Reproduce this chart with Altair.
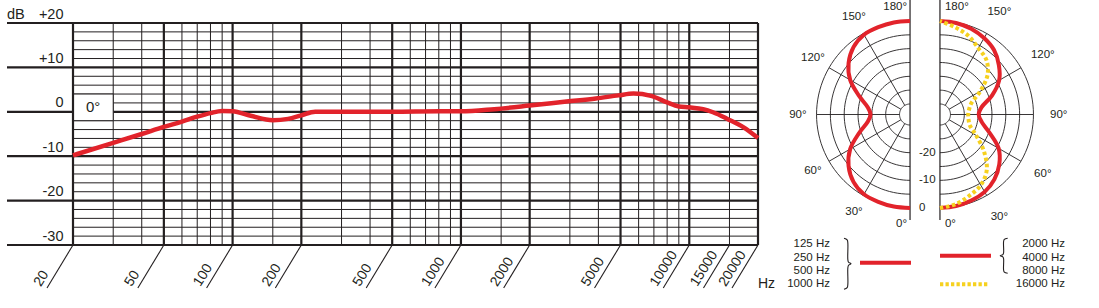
import altair as alt
import pandas as pd

W, H = 1099, 308
INK = "#231f20"
RED = "#e2232b"
YELLOW = "#f6d11f"
FONT = "Liberation Sans"

# ---------------- frequency response (0 deg) ----------------
MAJOR_HZ = [20, 50, 100, 200, 500, 1000, 2000, 5000, 10000, 20000]
MINOR_HZ = [30, 40, 60, 70, 80, 90, 150, 300, 400, 600, 700, 800, 900,
            1500, 3000, 4000, 6000, 7000, 8000, 9000, 15000]
HZ_TICKS = [20, 50, 100, 200, 500, 1000, 2000, 5000, 10000, 15000, 20000]
MAJOR_DB = [20, 10, 0, -10, -20, -30]
MAJOR_DB_TEXT = ["+20", "+10", "0", "-10", "-20", "-30"]
MINOR_DB = [18, 16, 14, 12, 8, 6, 4, 2, -2, -4, -6, -8,
            -12, -14, -16, -18, -22, -24, -26, -28]
RESP_HZ = [20, 30, 40, 50, 60, 70, 80, 90, 100, 120, 150, 175, 200, 230, 300,
           500, 800, 1000, 1400, 2000, 2900, 3900, 4900, 5700, 6800, 8000,
           9000, 10000, 11500, 12700, 14700, 17300, 20000]
RESP_DB = [-9.8, -7.0, -5.0, -3.4, -2.2, -1.1, -0.3, 0.2, 0.1, -0.9, -1.9, -1.6,
           -0.8, 0.0, 0.0, 0.0, 0.1, 0.1, 0.6, 1.4, 2.3, 3.0, 3.7, 4.1, 3.6,
           2.1, 1.2, 1.0, 0.6, -0.1, -1.6, -3.5, -5.9]

# ---------------- polar patterns ----------------
POLAR_THETA = [0, 10, 20, 30, 40, 50, 60, 70, 80, 90,
               100, 110, 120, 130, 140, 150, 160, 170, 180]
LOW_DB = [0, 0, -0.2, -0.5, -2.0, -4.8, -8.8, -14.2, -18.2, -19.5,
          -18.2, -14.2, -8.8, -4.8, -2.0, -0.5, -0.2, 0, 0]          # 125-1000 Hz
MID_DB = [0, -0.2, -0.7, -1.5, -3.2, -5.8, -9.3, -14.8, -18.5, -19.8,
          -18.5, -13.8, -9.1, -6.0, -3.4, -1.9, -0.8, -0.2, 0]        # 2000-8000 Hz
HIGH_DB = [0, -0.9, -2.6, -4.3, -7.5, -13.0, -18.7, -22.3, -23.3, -23.6,
           -23.1, -21.7, -17.0, -11.3, -7.8, -6.1, -3.6, -1.8, 0]     # 16000 Hz
RING_DB = [0, -5, -10, -15, -20, -25, -30]
SPOKE_DEG = [30, 60, 90, 120, 150]
ANGLE_TEXT = ["30°", "60°", "90°", "120°", "150°"]
END_DEG = [0, 180]
END_TEXT = ["0°", "180°"]
END_R = [1.175, 1.15]
POLAR_DB_TEXT = ["-20", "-10", "0"]
POLAR_DB_VAL = [-20, -10, 0]
DB_SPAN = 33.8   # dB from centre to outer ring
GAP = 0.16       # half gap between the two half-diagrams (outer radius = 1)

# ---------------- legend ----------------
LEFT_LEGEND = ["125 Hz", "250 Hz", "500 Hz", "1000 Hz"]
RIGHT_LEGEND = ["2000 Hz", "4000 Hz", "8000 Hz", "16000 Hz"]
BRACE_T = [0, 0.03, 0.1, 0.42, 0.47, 0.5, 0.53, 0.58, 0.9, 0.97, 1]
BRACE_W = [0, 0.45, 0.55, 0.55, 0.65, 1.0, 0.65, 0.55, 0.55, 0.45, 0]

# ======================= scales =======================
xf = alt.Scale(type="log", domain=[20, 20000], range=[73, 758], nice=False)
yf = alt.Scale(domain=[-30, 20], range=[245, 23], nice=False, zero=False)
xp = alt.Scale(domain=[-1, 1], range=[831.5, 1018.5], nice=False, zero=False)
yp = alt.Scale(domain=[-1, 1], range=[208, 21], nice=False, zero=False)
xl = alt.Scale(domain=[0, W], range=[0, W], nice=False, zero=False)
yl = alt.Scale(domain=[0, 3], range=[244.4, 284.3], nice=False, zero=False)


def FX(f):
    return alt.X(f, type="quantitative", scale=xf, axis=None)


def FY(f):
    return alt.Y(f, type="quantitative", scale=yf, axis=None)


def PX(f):
    return alt.X(f, type="quantitative", scale=xp, axis=None)


def PY(f):
    return alt.Y(f, type="quantitative", scale=yp, axis=None)


txt = dict(font=FONT, color=INK)

# ======================= frequency chart =======================
minor_h = alt.Chart(pd.DataFrame({"db": MINOR_DB, "f0": 20, "f1": 20000})).mark_rule(
    color=INK, strokeWidth=1).encode(x=FX("f0"), x2="f1", y=FY("db"))
minor_v = alt.Chart(pd.DataFrame({"f": MINOR_HZ, "d0": -30, "d1": 20})).mark_rule(
    color=INK, strokeWidth=1).encode(x=FX("f"), y=FY("d0"), y2="d1")
major_h = alt.Chart(pd.DataFrame({"db": MAJOR_DB, "f0": 20, "f1": 20000})).mark_rule(
    color=INK, strokeWidth=2.2).encode(x=FX("f0"), x2="f1", y=FY("db"))
major_stub = alt.Chart(pd.DataFrame({"db": MAJOR_DB})).mark_rule(
    color=INK, strokeWidth=2.2).encode(x=alt.value(7), x2=alt.value(73), y=FY("db"))
box = alt.Chart(pd.DataFrame({"f0": [20], "f1": [30], "d0": [4], "d1": [-2]})).mark_rect(
    fill="white", stroke=INK, strokeWidth=1).encode(x=FX("f0"), x2="f1", y=FY("d0"), y2="d1")
major_v = alt.Chart(pd.DataFrame({"f": MAJOR_HZ, "d0": -30, "d1": 20})).mark_rule(
    color=INK, strokeWidth=2.2).encode(x=FX("f"), y=FY("d0"), y2="d1")
slants = alt.Chart(pd.DataFrame({"f": HZ_TICKS, "d0": -30})).mark_rule(
    color=INK, strokeWidth=1.1, x2Offset=-26).encode(
    x=FX("f"), x2="f", y=FY("d0"), y2=alt.value(288))
curve = alt.Chart(pd.DataFrame({"f": RESP_HZ, "db": RESP_DB})).mark_line(
    color=RED, strokeWidth=4.5, interpolate="monotone").encode(x=FX("f"), y=FY("db"))
ylabels = alt.Chart(pd.DataFrame({"db": MAJOR_DB, "t": MAJOR_DB_TEXT})).mark_text(
    align="right", baseline="alphabetic", dy=-4.5, fontSize=14.5, **txt).encode(
    x=alt.value(63.5), y=FY("db"), text="t:N")
dblabel = alt.Chart(pd.DataFrame({"db": [20], "t": ["dB"]})).mark_text(
    align="left", baseline="alphabetic", dy=-4.5, fontSize=14.5, **txt).encode(
    x=alt.value(7), y=FY("db"), text="t:N")
xlabels = alt.Chart(pd.DataFrame({"f": HZ_TICKS, "d0": -30,
                                  "t": [str(v) for v in HZ_TICKS]})).mark_text(
    angle=302, align="left", baseline="alphabetic", dx=-53, dy=-5, fontSize=14, **txt).encode(
    x=FX("f"), y=FY("d0"), text="t:N")
hz = alt.Chart(pd.DataFrame({"t": ["Hz"]})).mark_text(
    align="left", baseline="alphabetic", fontSize=14, **txt).encode(
    x=alt.value(758), y=alt.value(288), text="t:N")
boxtext = alt.Chart(pd.DataFrame({"f": [24.5], "db": [1], "t": ["0°"]})).mark_text(
    align="center", baseline="middle", fontSize=15, **txt).encode(
    x=FX("f"), y=FY("db"), text="t:N")

freq = alt.layer(minor_h, minor_v, major_h, major_stub, box, major_v, slants, curve,
                 ylabels, dblabel, xlabels, hz, boxtext)

# ======================= polar charts =======================
R_EXPR = f"((datum.db + {DB_SPAN}) / {DB_SPAN})"


def polar_xy(ch, r_expr=R_EXPR, suffix=""):
    return ch.transform_calculate(**{
        "px" + suffix: f"datum.side * ({GAP} + {r_expr} * sin(datum.theta * PI / 180))",
        "py" + suffix: f"-{r_expr} * cos(datum.theta * PI / 180)",
    })


ring_rows = []
for db in RING_DB:
    for side in (-1, 1):
        for th in range(0, 181, 3):
            ring_rows.append({"db": db, "side": side, "theta": th, "key": f"{db}_{side}"})
rings = polar_xy(alt.Chart(pd.DataFrame(ring_rows))).mark_line(
    color=INK, strokeWidth=0.9).encode(
    x=PX("px"), y=PY("py"), detail="key:N", order=alt.Order("theta:Q"))

spoke_df = pd.DataFrame([{"side": s, "theta": t} for s in (-1, 1) for t in SPOKE_DEG])
spokes = alt.Chart(spoke_df).transform_calculate(
    px0=f"datum.side * ({GAP} + {(DB_SPAN - 30) / DB_SPAN} * sin(datum.theta * PI / 180))",
    py0=f"-{(DB_SPAN - 30) / DB_SPAN} * cos(datum.theta * PI / 180)",
    px1=f"datum.side * ({GAP} + sin(datum.theta * PI / 180))",
    py1="-cos(datum.theta * PI / 180)",
).mark_rule(color=INK, strokeWidth=0.9).encode(
    x=PX("px0"), y=PY("py0"), x2="px1", y2="py1")

vlines = alt.Chart(pd.DataFrame({"side": [-1, 1], "y0": -1.128, "y1": 1.225})).transform_calculate(
    px=f"datum.side * {GAP}").mark_rule(color=INK, strokeWidth=1.2).encode(
    x=PX("px"), y=PY("y0"), y2="y1")


def pattern(values, side, **mk):
    df = pd.DataFrame({"theta": POLAR_THETA, "db": values, "side": side})
    return polar_xy(alt.Chart(df)).mark_line(interpolate="catmull-rom", **mk).encode(
        x=PX("px"), y=PY("py"), order=alt.Order("theta:Q"))


red_l = pattern(LOW_DB, -1, color=RED, strokeWidth=4)
red_r = pattern(MID_DB, 1, color=RED, strokeWidth=4)
yel_r = pattern(HIGH_DB, 1, color=YELLOW, strokeWidth=4, strokeDash=[3.5, 2.6])

lab_rows = []
for side, lr in ((-1, 1.2), (1, 1.27)):
    for t, s in zip(SPOKE_DEG, ANGLE_TEXT):
        lab_rows.append({"side": side, "theta": t, "t": s, "lr": lr})
angle_labels = polar_xy(alt.Chart(pd.DataFrame(lab_rows)), r_expr="datum.lr").mark_text(
    align="center", baseline="middle", fontSize=11.5, **txt).encode(
    x=PX("px"), y=PY("py"), text="t:N")


def end_labels(side, align, dx):
    df = pd.DataFrame({"side": side, "theta": END_DEG, "t": END_TEXT, "lr": END_R})
    return alt.Chart(df).transform_calculate(
        px=f"datum.side * {GAP}", py="-datum.lr * cos(datum.theta * PI / 180)").mark_text(
        align=align, baseline="middle", dx=dx, fontSize=11.5, **txt).encode(
        x=PX("px"), y=PY("py"), text="t:N")


end_l = end_labels(-1, "right", -3)
end_r = end_labels(1, "left", 5)

pdb = alt.Chart(pd.DataFrame({"db": POLAR_DB_VAL, "t": POLAR_DB_TEXT})).transform_calculate(
    px="0", py=f"-{R_EXPR}").mark_text(
    align="left", baseline="middle", dx=-6, fontSize=11.5, **txt).encode(
    x=PX("px"), y=PY("py"), text="t:N")

polar = alt.layer(rings, spokes, vlines, red_l, red_r, yel_r, angle_labels, end_l, end_r, pdb)

# ======================= legend =======================
LY = lambda f: alt.Y(f, type="quantitative", scale=yl, axis=None)
leg_l = alt.Chart(pd.DataFrame({"row": [0, 1, 2, 3], "t": LEFT_LEGEND})).mark_text(
    align="right", baseline="middle", fontSize=11.5, **txt).encode(
    x=alt.value(830), y=LY("row"), text="t:N")
leg_r = alt.Chart(pd.DataFrame({"row": [0, 1, 2, 3], "t": RIGHT_LEGEND})).mark_text(
    align="right", baseline="middle", fontSize=11.5, **txt).encode(
    x=alt.value(1065), y=LY("row"), text="t:N")
sw_low = alt.Chart(pd.DataFrame({"row": [1.38]})).mark_rule(color=RED, strokeWidth=4).encode(
    x=alt.value(860), x2=alt.value(911), y=LY("row"))
sw_mid = alt.Chart(pd.DataFrame({"row": [0.85]})).mark_rule(color=RED, strokeWidth=4).encode(
    x=alt.value(940), x2=alt.value(991), y=LY("row"))
sw_high = alt.Chart(pd.DataFrame({"row": [3]})).mark_rule(
    color=YELLOW, strokeWidth=4, strokeDash=[3.3, 2.2]).encode(
    x=alt.value(940), x2=alt.value(988), y=LY("row"))

brace_rows = []
for name, x0, direc, wd, top, bot in (("L", 844, 1, 7, -0.46, 3.37), ("R", 1007.7, -1, 7.5, -0.46, 2.17)):
    for i, (t, w) in enumerate(zip(BRACE_T, BRACE_W)):
        brace_rows.append({"b": name, "i": i, "bx": x0 + direc * w * wd, "row": top + t * (bot - top)})
braces = alt.Chart(pd.DataFrame(brace_rows)).mark_line(
    color=INK, strokeWidth=1.1, interpolate="catmull-rom").encode(
    x=alt.X("bx:Q", scale=xl, axis=None), y=LY("row"), detail="b:N", order=alt.Order("i:Q"))

legend = alt.layer(leg_l, leg_r, sw_low, sw_mid, sw_high, braces)

chart = alt.layer(freq, polar, legend).resolve_scale(
    x="independent", y="independent").properties(
    width=W, height=H, padding=0, background="white",
    autosize=alt.AutoSizeParams(type="none")).configure_view(stroke=None)

chart.save("out.html", embed_options={"renderer": "svg", "actions": False})
